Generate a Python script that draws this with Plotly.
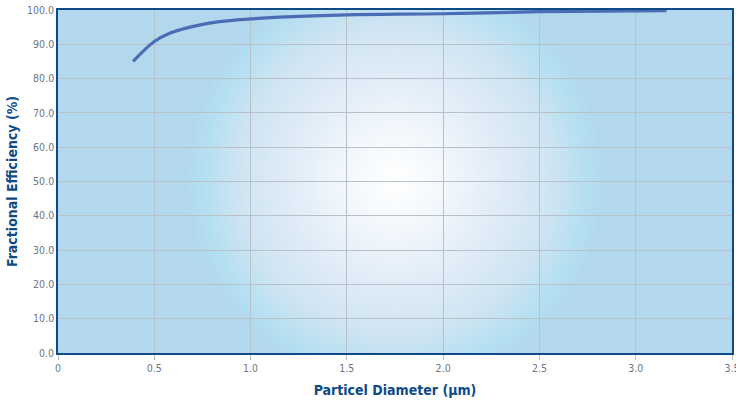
import plotly.graph_objects as go
import urllib.parse

diameter_um = [0.39, 0.5, 0.58, 0.67, 0.84, 1.0, 1.15, 1.5, 2.0, 2.5, 3.16]
efficiency_pct = [85.0, 90.8, 93.2, 94.8, 96.6, 97.4, 97.9, 98.6, 98.9, 99.5, 99.8]

x_tickvals = [0, 0.5, 1.0, 1.5, 2.0, 2.5, 3.0, 3.5]
x_ticktext = ["0", "0.5", "1.0", "1.5", "2.0", "2.5", "3.0", "3.5"]
y_tickvals = [0, 10, 20, 30, 40, 50, 60, 70, 80, 90, 100]
y_ticktext = ["0.0", "10.0", "20.0", "30.0", "40.0", "50.0", "60.0", "70.0", "80.0", "90.0", "100.0"]

svg = (
    '<svg xmlns="http://www.w3.org/2000/svg" width="674" height="343" viewBox="0 0 674 343" preserveAspectRatio="none">'
    '<defs><radialGradient id="g" gradientUnits="userSpaceOnUse" cx="337" cy="170" r="208" fx="337" fy="170">'
    '<stop offset="0" stop-color="#ffffff"/>'
    '<stop offset="0.25" stop-color="#f2f7fc"/>'
    '<stop offset="0.5" stop-color="#e0ecf7"/>'
    '<stop offset="0.75" stop-color="#cfe4f2"/>'
    '<stop offset="0.93" stop-color="#b3dff1"/>'
    '<stop offset="1" stop-color="#b3d8ed"/>'
    '</radialGradient></defs>'
    '<rect width="674" height="343" fill="url(#g)"/>'
    '</svg>'
)
src = "data:image/svg+xml;charset=utf-8," + urllib.parse.quote(svg)

font_fam = "DejaVu Sans Condensed, Liberation Sans Narrow, Arial Narrow, sans-serif"

fig = go.Figure()
fig.add_trace(go.Scatter(
    x=diameter_um, y=efficiency_pct, mode="lines",
    line=dict(color="#4a6db6", width=3.2, shape="spline", smoothing=1.0),
    showlegend=False, hoverinfo="x+y",
))

fig.add_layout_image(dict(
    source=src, xref="paper", yref="paper", x=0, y=1, sizex=1, sizey=1,
    sizing="stretch", xanchor="left", yanchor="top", layer="below",
))

fig.update_layout(
    width=736, height=402,
    margin=dict(l=58, r=4, t=10, b=49, autoexpand=False),
    paper_bgcolor="white",
    plot_bgcolor="rgba(0,0,0,0)",
    font=dict(family=font_fam, color="#6b7785", size=10),
    xaxis=dict(
        range=[0, 3.5], tickvals=x_tickvals, ticktext=x_ticktext,
        showgrid=True, gridcolor="#b8c0c8", gridwidth=1,
        showline=True, linecolor="#0d4a86", linewidth=1.5, mirror=True,
        ticks="outside", ticklen=5, tickcolor="#b8c0c8",
        zeroline=False, automargin=False, ticklabeloverflow="allow",
        title=dict(text="<b>Particel Diameter (µm)</b>",
                   font=dict(family=font_fam, size=14, color="#0d4a86"), standoff=12),
        tickfont=dict(size=10.5, color="#6b7785"),
    ),
    yaxis=dict(
        range=[0, 100], tickvals=y_tickvals, ticktext=y_ticktext,
        showgrid=True, gridcolor="#b8c0c8", gridwidth=1,
        showline=True, linecolor="#0d4a86", linewidth=1.5, mirror=True,
        ticks="", zeroline=False, automargin=False, ticklabeloverflow="allow",
        title=dict(text="<b>Fractional Efficiency (%)</b>",
                   font=dict(family=font_fam, size=14, color="#0d4a86"), standoff=6),
        tickfont=dict(size=10.5, color="#6b7785"),
    ),
)

fig.write_html(
    "out.html",
    config={"displayModeBar": False},
    post_script="document.body.style.margin='0';document.body.style.overflow='hidden';",
)
